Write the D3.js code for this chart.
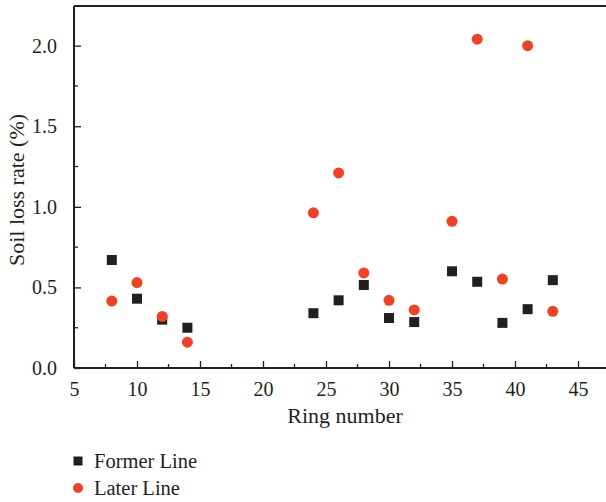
<!DOCTYPE html>
<html>
<head>
<meta charset="utf-8">
<script src="https://cdn.jsdelivr.net/npm/d3@7"></script>
<style>
  html, body { margin: 0; padding: 0; background: #fff; }
  svg text { font-family: "Liberation Serif", "DejaVu Serif", serif; fill: #231f20; }
</style>
</head>
<body>
<svg id="chart" width="606" height="502"></svg>
<script>
// Ring numbers sampled along each tunnel line
const rings = [8, 10, 12, 14, 24, 26, 28, 30, 32, 35, 37, 39, 41, 43];
// Soil loss rate (%) per ring
const formerLine = [0.67, 0.43, 0.30, 0.25, 0.34, 0.42, 0.515, 0.31, 0.285, 0.60, 0.535, 0.28, 0.365, 0.545];
const laterLine  = [0.415, 0.53, 0.32, 0.16, 0.963, 1.21, 0.59, 0.42, 0.36, 0.91, 2.04, 0.552, 2.0, 0.352];

const xTicks = [5, 10, 15, 20, 25, 30, 35, 40, 45];
const yTicks = [0.0, 0.5, 1.0, 1.5, 2.0];

const seriesNames = ["Former Line", "Later Line"];
const colors = { "Former Line": "#231f20", "Later Line": "#ef4123" };

const svg = d3.select("#chart");
const ink = "#231f20";

const x = d3.scaleLinear().domain([5, 47.22]).range([74, 606]);
const y = d3.scaleLinear().domain([0, 2.246]).range([368, 6]);

// Frame: top line, left axis, bottom axis (no right edge)
svg.append("line").attr("x1", x(5)).attr("x2", x(47.22))
  .attr("y1", y(2.246)).attr("y2", y(2.246))
  .attr("stroke", ink).attr("stroke-width", 2);

// Minor ticks
const xMinor = d3.range(7.5, 47, 5);
const yMinor = d3.range(0.25, 2.25, 0.5);

const xAxis = svg.append("g").attr("transform", `translate(0,${y(0)})`)
  .call(d3.axisBottom(x).tickValues(xTicks).tickSize(-7).tickPadding(14).tickFormat(d3.format("d")));
xAxis.select(".domain").attr("stroke", ink).attr("stroke-width", 2)
  .attr("d", `M${x(5)},0H${x(47.22)}`);
xAxis.selectAll(".tick line").attr("stroke", ink).attr("stroke-width", 1.3);
xAxis.selectAll(".tick text").attr("font-size", 20).style("font-family", '"Liberation Serif", serif').attr("fill", ink);
xAxis.selectAll(".minor").data(xMinor).enter().append("line")
  .attr("x1", d => x(d)).attr("x2", d => x(d)).attr("y1", 0).attr("y2", -4)
  .attr("stroke", ink).attr("stroke-width", 1.3);

const yAxis = svg.append("g").attr("transform", `translate(${x(5)},0)`)
  .call(d3.axisLeft(y).tickValues(yTicks).tickSize(-7).tickPadding(17).tickFormat(d3.format(".1f")));
yAxis.select(".domain").attr("stroke", ink).attr("stroke-width", 2)
  .attr("d", `M0,${y(0)}V${y(2.246)}`);
yAxis.selectAll(".tick line").attr("stroke", ink).attr("stroke-width", 1.3);
yAxis.selectAll(".tick text").attr("font-size", 20).style("font-family", '"Liberation Serif", serif').attr("fill", ink);
yAxis.selectAll(".minor").data(yMinor).enter().append("line")
  .attr("y1", d => y(d)).attr("y2", d => y(d)).attr("x1", 0).attr("x2", 4)
  .attr("stroke", ink).attr("stroke-width", 1.3);

// Axis titles
svg.append("text").attr("x", 345).attr("y", 423).attr("text-anchor", "middle")
  .attr("font-size", 22).text("Ring number");
svg.append("text").attr("transform", "translate(24,190) rotate(-90)")
  .attr("text-anchor", "middle").attr("font-size", 22).text("Soil loss rate (%)");

// Points
const sq = 10;
svg.append("g").selectAll("rect").data(rings.map((r, i) => [r, formerLine[i]])).enter()
  .append("rect")
  .attr("x", d => x(d[0]) - sq / 2).attr("y", d => y(d[1]) - sq / 2)
  .attr("width", sq).attr("height", sq)
  .attr("fill", colors["Former Line"]);

svg.append("g").selectAll("circle").data(rings.map((r, i) => [r, laterLine[i]])).enter()
  .append("circle")
  .attr("cx", d => x(d[0])).attr("cy", d => y(d[1])).attr("r", 5.5)
  .attr("fill", colors["Later Line"]);

// Legend
const legend = svg.append("g");
legend.append("rect").attr("x", 73.5).attr("y", 456.5).attr("width", 9).attr("height", 9)
  .attr("fill", colors["Former Line"]);
legend.append("circle").attr("cx", 78).attr("cy", 488).attr("r", 5)
  .attr("fill", colors["Later Line"]);
legend.append("text").attr("x", 94).attr("y", 468).attr("font-size", 20.5).text(seriesNames[0]);
legend.append("text").attr("x", 94).attr("y", 495).attr("font-size", 20.5).text(seriesNames[1]);
</script>
</body>
</html>
